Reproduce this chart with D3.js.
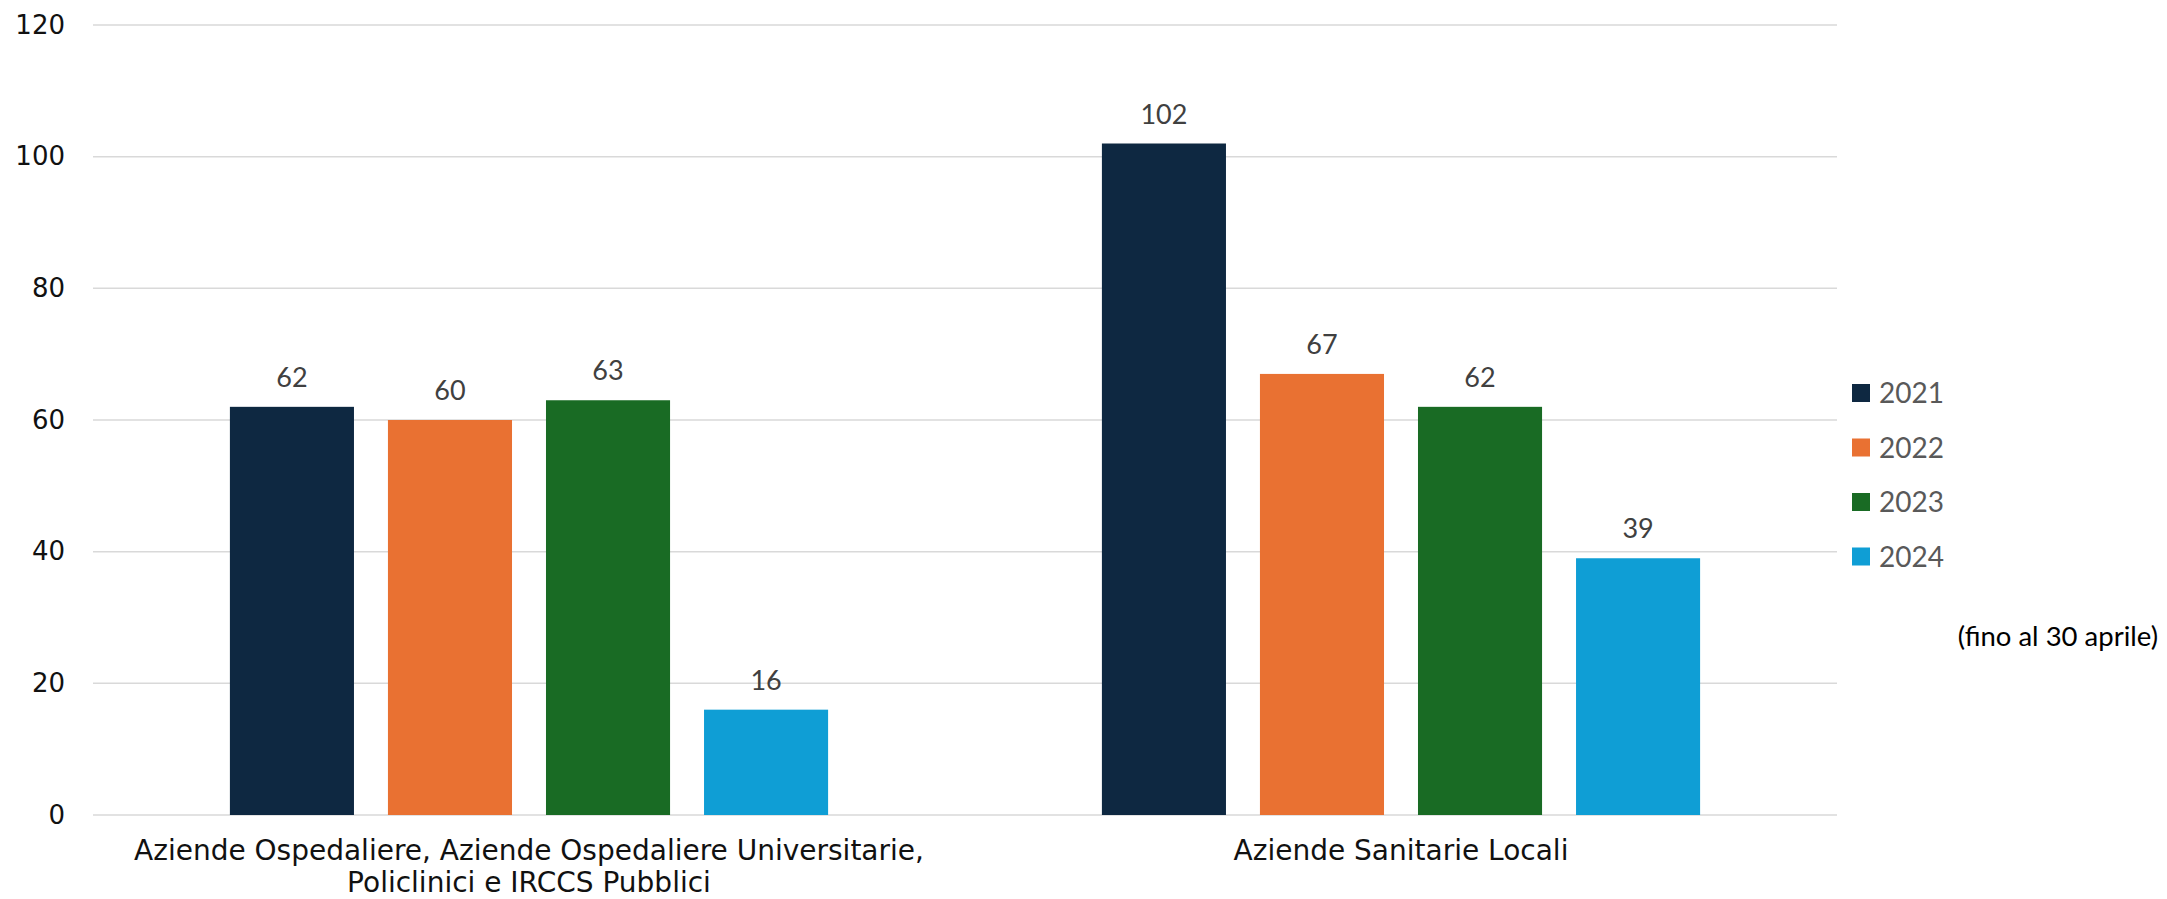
<!DOCTYPE html>
<head>
  <meta charset="utf-8">
  <script src="https://d3js.org/d3.v7.min.js"></script>
  <style>
    body { margin: 0; background: #fff; }
  </style>
</head>
<body>
<svg width="2167" height="899"></svg>
<script>

  // data
  let categories = [
    ["Aziende Ospedaliere, Aziende Ospedaliere Universitarie,", "Policlinici e IRCCS Pubblici"],
    ["Aziende Sanitarie Locali"]
  ];
  let years = ["2021", "2022", "2023", "2024"];
  let values2021 = [62, 102];
  let values2022 = [60, 67];
  let values2023 = [63, 62];
  let values2024 = [16, 39];
  let yTicks = [0, 20, 40, 60, 80, 100, 120];
  let colors = ["#0E2841", "#E97132", "#196B24", "#0F9ED5"];
  let note = "(fino al 30 aprile)";

  let series = [values2021, values2022, values2023, values2024];

  let svg = d3.select("svg"),
    plotLeft = 93,
    plotRight = 1837,
    plotTop = 25,
    plotBottom = 815;

  let catIds = categories.map(function (d, i) { return i; });

  let x0 = d3.scaleBand()
    .domain(catIds)
    .range([plotLeft, plotRight])
    .paddingInner(0.314)
    .paddingOuter(0.157);

  let x1 = d3.scaleBand()
    .domain(years)
    .range([0, x0.bandwidth()])
    .paddingInner(0.215)
    .paddingOuter(0);

  let y = d3.scaleLinear()
    .domain([0, 120])
    .range([plotBottom, plotTop]);

  // gridlines
  svg.append("g")
    .selectAll("line")
    .data(yTicks)
    .join("line")
    .attr("x1", plotLeft)
    .attr("x2", plotRight)
    .attr("y1", function (d) { return y(d); })
    .attr("y2", function (d) { return y(d); })
    .attr("stroke", "#d9d9d9")
    .attr("stroke-width", 1.5);

  // y axis labels
  let yAxis = svg.append("g")
    .attr("transform", "translate(" + (plotLeft - 28) + ",0)")
    .call(d3.axisLeft(y).tickValues(yTicks).tickSize(0).tickPadding(0));
  yAxis.select(".domain").remove();
  yAxis.selectAll("text")
    .attr("font-family", "DejaVu Sans")
    .attr("font-size", 26)
    .attr("fill", "#111");

  // bars
  let groups = svg.append("g")
    .selectAll("g")
    .data(catIds)
    .join("g")
    .attr("transform", function (d) { return "translate(" + x0(d) + ",0)"; });

  groups.selectAll("rect")
    .data(function (c) {
      return years.map(function (yr, k) { return {year: yr, value: series[k][c], k: k}; });
    })
    .join("rect")
    .attr("x", function (d) { return x1(d.year); })
    .attr("width", x1.bandwidth())
    .attr("y", function (d) { return y(d.value); })
    .attr("height", function (d) { return y(0) - y(d.value); })
    .attr("fill", function (d) { return colors[d.k]; });

  groups.selectAll("text")
    .data(function (c) {
      return years.map(function (yr, k) { return {year: yr, value: series[k][c]}; });
    })
    .join("text")
    .attr("x", function (d) { return x1(d.year) + x1.bandwidth() / 2; })
    .attr("y", function (d) { return y(d.value) - 20; })
    .attr("text-anchor", "middle")
    .attr("font-family", "Lato")
    .attr("font-size", 27)
    .attr("fill", "#404040")
    .text(function (d) { return d.value; });

  // category labels
  let catLabels = svg.append("g")
    .selectAll("text")
    .data(catIds)
    .join("text")
    .attr("x", function (d) { return x0(d) + x0.bandwidth() / 2; })
    .attr("y", 860)
    .attr("text-anchor", "middle")
    .attr("font-family", "DejaVu Sans")
    .attr("font-size", 28)
    .attr("fill", "#111");

  catLabels.selectAll("tspan")
    .data(function (d) { return categories[d]; })
    .join("tspan")
    .attr("x", function () { return d3.select(this.parentNode).attr("x"); })
    .attr("dy", function (d, i) { return i === 0 ? 0 : 32; })
    .text(function (d) { return d; });

  // legend
  let legend = svg.append("g")
    .selectAll("g")
    .data(years)
    .join("g")
    .attr("transform", function (d, i) { return "translate(1852," + (393 + i * 54.5) + ")"; });

  legend.append("rect")
    .attr("x", 0)
    .attr("y", -9)
    .attr("width", 18)
    .attr("height", 18)
    .attr("fill", function (d, i) { return colors[i]; });

  legend.append("text")
    .attr("x", 27)
    .attr("y", 10)
    .attr("font-family", "Lato")
    .attr("font-size", 28)
    .attr("fill", "#595959")
    .text(function (d) { return d; });

  svg.append("text")
    .attr("x", 2158)
    .attr("y", 646)
    .attr("text-anchor", "end")
    .attr("font-family", "Lato")
    .attr("font-size", 27.5)
    .attr("fill", "#000")
    .text(note);

</script>
</body>
